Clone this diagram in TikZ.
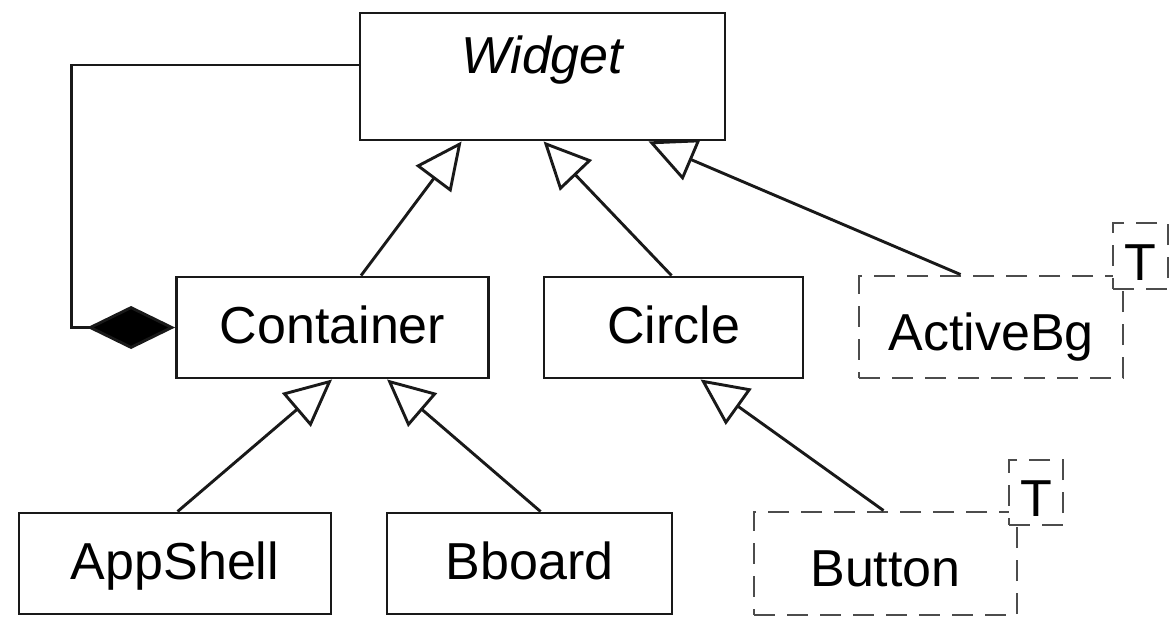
\documentclass[tikz,border=0pt]{standalone}
\usepackage{fontspec}
\setmainfont{Liberation Sans}
\usetikzlibrary{arrows.meta}
\newcommand\umlfont{\fontsize{52}{60}\selectfont}
\tikzset{
  ink/.style={draw=black!90, line width=2.9pt},
  cls/.style={ink, rectangle, inner sep=0pt, font=\umlfont,
    text height=38pt, text depth=7pt},
  tmpl/.style={cls, draw=black!70, dash pattern=on 21pt off 12pt,
    text height=50pt, text depth=4pt},
  tparam/.style={tmpl, fill=white, text height=50pt, text depth=2pt},
  gen/.style={ink, -{Triangle[open, length=47pt, width=44pt]}},
  agg/.style={ink, {Diamond[length=88pt, width=43pt, fill=black]}-},
}
\begin{document}
\begin{tikzpicture}[x=1pt, y=-1pt]
\useasboundingbox (0,0) rectangle (1172,616);

% classes
\node[cls, minimum width=365pt, minimum height=127pt, text depth=45pt,
      font=\umlfont\itshape] (widget) at (542.5,76.5) {Widget};
\node[cls, minimum width=312pt, minimum height=101pt] (container) at (332.5,327.5) {Container};
\node[cls, minimum width=259pt, minimum height=101pt] (circle) at (673.5,327.5) {Circle};
\node[cls, minimum width=312pt, minimum height=101pt] (appshell) at (175,563.5) {AppShell};
\node[cls, minimum width=285pt, minimum height=101pt] (bboard) at (529.5,563.5) {Bboard};

% parameterized classes
\node[tmpl, minimum width=264pt, minimum height=102pt] (activebg) at (991,327) {ActiveBg};
\node[tmpl, minimum width=263pt, minimum height=103pt] (button) at (885.5,563.5) {Button};
\node[tparam, minimum width=55pt, minimum height=66pt] (tact) at (1140.5,256) {T};
\node[tparam, minimum width=54pt, minimum height=65pt] (tbut) at (1036,492.5) {T};

% generalizations
\draw[gen] ([xshift=186pt]container.north west) -- ([xshift=103pt]widget.south west);
\draw[gen] ([xshift=129pt]circle.north west) -- ([xshift=185pt]widget.south west);
\draw[gen] ([xshift=103pt]activebg.north west) -- ([xshift=290pt]widget.south west);
\draw[gen] ([xshift=160pt]appshell.north west) -- ([xshift=157pt]container.south west);
\draw[gen] ([xshift=155pt]bboard.north west) -- ([xshift=212pt]container.south west);
\draw[gen] ([xshift=131pt]button.north west) -- ([xshift=158pt]circle.south west);

% composition: a container holds widgets
\draw[agg] (container.west) -- ++(-104,0) |- ([yshift=11.5pt]widget.west);
\end{tikzpicture}
\end{document}
